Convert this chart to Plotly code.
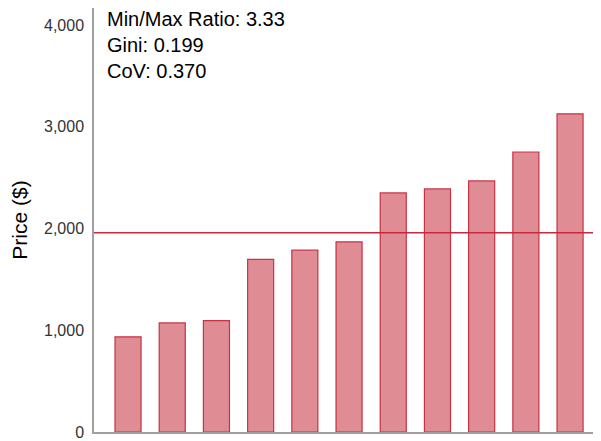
"""Price distribution bar chart with mean line and inequality stats (Plotly)."""

import plotly.graph_objects as go

categories = [f"P{i}" for i in range(1, 12)]
prices = [935, 1072, 1095, 1696, 1787, 1869, 2350, 2389, 2468, 2752, 3127]
y_ticks = [0, 1000, 2000, 3000, 4000]
stats_lines = ["Min/Max Ratio: 3.33", "Gini: 0.199", "CoV: 0.370"]

mean_price = sum(prices) / len(prices)

fig = go.Figure()
fig.add_trace(go.Bar(
    x=categories,
    y=prices,
    width=0.59,
    marker=dict(
        color="rgba(193,25,41,0.5)",
        line=dict(color="rgba(195,35,55,0.9)", width=1.2),
    ),
    hovertemplate="%{x}: $%{y:,}<extra></extra>",
))

fig.add_hline(y=mean_price, line_color="#c8283c", line_width=1.5)

fig.add_annotation(
    text="<br>".join(stats_lines),
    xref="paper", yref="paper", x=0.026, y=1, yanchor="top", xanchor="left",
    yshift=0, borderpad=0, borderwidth=0, showarrow=False, align="left",
    font=dict(size=20, color="#000000"),
)

# page body has an 8px margin, so the figure is sized/offset to fit the window
fig.update_layout(
    width=593, height=433,
    margin=dict(l=86, r=0, t=0, b=9),
    paper_bgcolor="white", plot_bgcolor="white",
    font=dict(family="Liberation Sans, Arial, sans-serif", color="#000000"),
    showlegend=False,
    xaxis=dict(
        range=[-0.77, 10.7], showticklabels=False, showgrid=False,
        showline=True, linecolor="#a0a0a0", linewidth=2, zeroline=False,
    ),
    yaxis=dict(
        range=[0, 4167], tickvals=y_ticks, tickformat=",",
        showgrid=False, zeroline=False,
        showline=True, linecolor="#a0a0a0", linewidth=1.5,
        ticklabelstandoff=5, tickfont=dict(size=16, color="#333333"),
        title=dict(text="Price ($)", font=dict(size=21), standoff=14),
    ),
)

fig.write_html("out.html")
